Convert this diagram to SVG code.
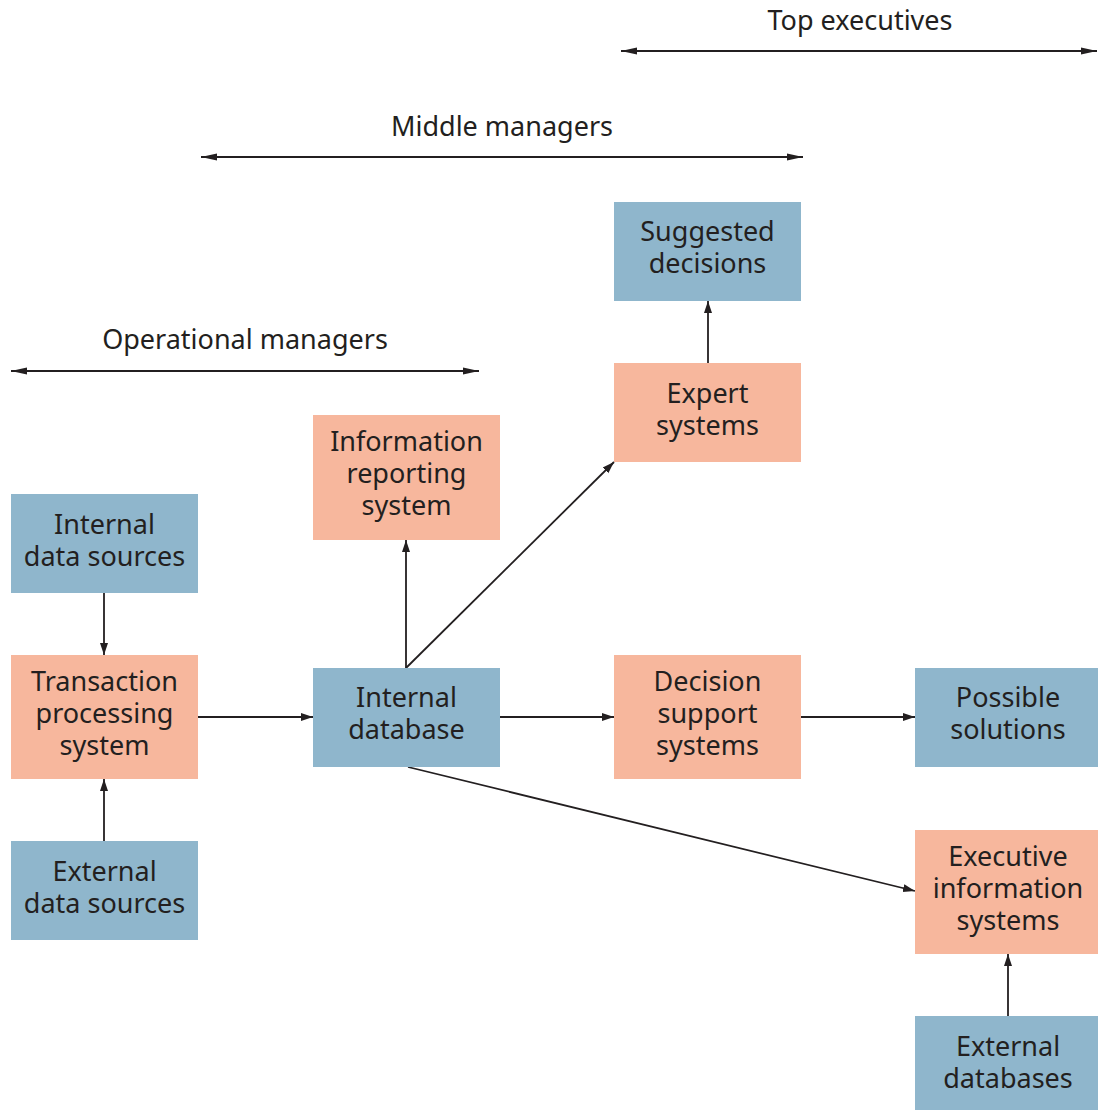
<svg xmlns="http://www.w3.org/2000/svg" width="1098" height="1110" viewBox="0 0 1098 1110">
<style>
.blue{fill:#8fb6cc}
.red{fill:#f7b79d}
text{font-family:"Noto Sans","Open Sans",sans-serif;font-size:27px;fill:#231f20;text-anchor:middle}
.c{stroke:#231f20;stroke-width:1.8;fill:none}
</style>
<defs>
<marker id="ah" viewBox="0 0 12 10" refX="12" refY="5" markerWidth="12" markerHeight="10" markerUnits="userSpaceOnUse" orient="auto-start-reverse">
<path d="M0,1 L12,5 L0,9 Z" fill="#231f20"/>
</marker>
<marker id="ahL" viewBox="0 0 16 10" refX="16" refY="5" markerWidth="16" markerHeight="10" markerUnits="userSpaceOnUse" orient="auto-start-reverse">
<path d="M0,1.5 L16,5 L0,8.5 Z" fill="#231f20"/>
</marker>
</defs>
<rect width="1098" height="1110" fill="#ffffff"/>
<g id="levels">
<text x="860" y="30">Top executives</text>
<text x="502" y="136">Middle managers</text>
<text x="245" y="349">Operational managers</text>
</g>
<g id="connectors">
<line class="c" x1="621" y1="51" x2="1097" y2="51" marker-start="url(#ahL)" marker-end="url(#ahL)"/>
<line class="c" x1="201" y1="157" x2="803" y2="157" marker-start="url(#ahL)" marker-end="url(#ahL)"/>
<line class="c" x1="11" y1="371" x2="479" y2="371" marker-start="url(#ahL)" marker-end="url(#ahL)"/>
<line class="c" x1="104" y1="593" x2="104" y2="655" marker-end="url(#ah)"/>
<line class="c" x1="104" y1="841" x2="104" y2="779" marker-end="url(#ah)"/>
<line class="c" x1="198" y1="717" x2="313" y2="717" marker-end="url(#ah)"/>
<line class="c" x1="406" y1="668" x2="406" y2="540" marker-end="url(#ah)"/>
<line class="c" x1="406" y1="668" x2="614" y2="462" marker-end="url(#ah)"/>
<line class="c" x1="500" y1="717" x2="614" y2="717" marker-end="url(#ah)"/>
<line class="c" x1="801" y1="717" x2="915" y2="717" marker-end="url(#ah)"/>
<line class="c" x1="408" y1="767" x2="915" y2="891" marker-end="url(#ah)"/>
<line class="c" x1="708" y1="363" x2="708" y2="301" marker-end="url(#ah)"/>
<line class="c" x1="1008" y1="1016" x2="1008" y2="954" marker-end="url(#ah)"/>
</g>
<g id="internal-data-sources">
<rect class="blue" x="11" y="494" width="187" height="99"/>
<text x="104.5" y="534">Internal</text>
<text x="104.5" y="566">data sources</text>
</g>
<g id="transaction-processing-system">
<rect class="red" x="11" y="655" width="187" height="124"/>
<text x="104.5" y="691">Transaction</text>
<text x="104.5" y="723">processing</text>
<text x="104.5" y="755">system</text>
</g>
<g id="external-data-sources">
<rect class="blue" x="11" y="841" width="187" height="99"/>
<text x="104.5" y="881">External</text>
<text x="104.5" y="913">data sources</text>
</g>
<g id="information-reporting-system">
<rect class="red" x="313" y="415" width="187" height="125"/>
<text x="406.5" y="451">Information</text>
<text x="406.5" y="483">reporting</text>
<text x="406.5" y="515">system</text>
</g>
<g id="internal-database">
<rect class="blue" x="313" y="668" width="187" height="99"/>
<text x="406.5" y="707">Internal</text>
<text x="406.5" y="739">database</text>
</g>
<g id="suggested-decisions">
<rect class="blue" x="614" y="202" width="187" height="99"/>
<text x="707.5" y="241">Suggested</text>
<text x="707.5" y="273">decisions</text>
</g>
<g id="expert-systems">
<rect class="red" x="614" y="363" width="187" height="99"/>
<text x="707.5" y="403">Expert</text>
<text x="707.5" y="435">systems</text>
</g>
<g id="decision-support-systems">
<rect class="red" x="614" y="655" width="187" height="124"/>
<text x="707.5" y="691">Decision</text>
<text x="707.5" y="723">support</text>
<text x="707.5" y="755">systems</text>
</g>
<g id="possible-solutions">
<rect class="blue" x="915" y="668" width="183" height="99"/>
<text x="1008" y="707">Possible</text>
<text x="1008" y="739">solutions</text>
</g>
<g id="executive-information-systems">
<rect class="red" x="915" y="830" width="183" height="124"/>
<text x="1008" y="866">Executive</text>
<text x="1008" y="898">information</text>
<text x="1008" y="930">systems</text>
</g>
<g id="external-databases">
<rect class="blue" x="915" y="1016" width="183" height="94"/>
<text x="1008" y="1056">External</text>
<text x="1008" y="1088">databases</text>
</g>
</svg>
